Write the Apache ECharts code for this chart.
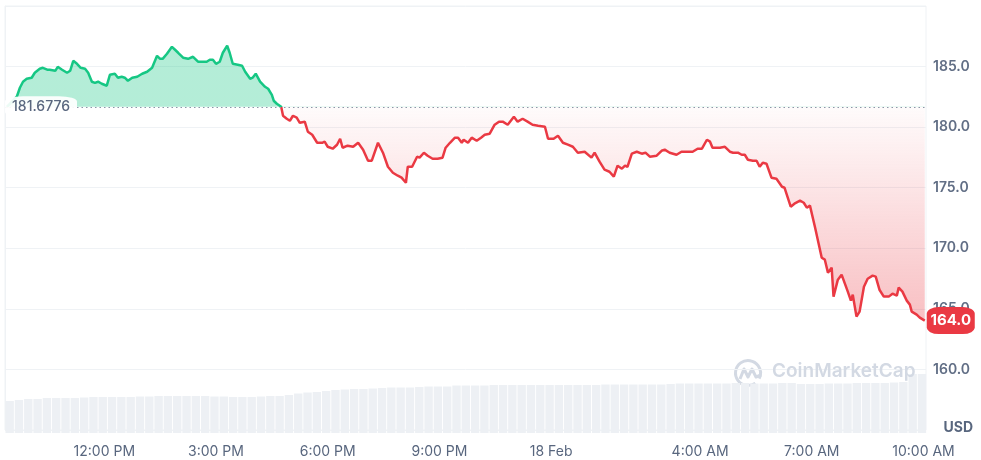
<!DOCTYPE html>
<html>
<head>
<meta charset="utf-8">
<script src="https://cdn.jsdelivr.net/npm/echarts@6/dist/echarts.min.js"></script>
<style>html,body{margin:0;padding:0;background:#fff}#c{width:981px;height:460px}</style>
</head>
<body>
<div id="c"></div>
<script>
// ---- data ----
const baseline = 181.6776;
// minutes after 17 Feb 09:20
const minutes = [3,19,24,29,35,43,48,56,61,68,72,81,85,92,100,105,110,116,122,129,134,140,145,150,156,164,169,172,177,182,188,193,198,205,213,221,229,237,245,250,254,261,269,274,279,287,295,303,311,319,325,330,335,340,346,351,358,362,367,375,382,387,395,399,404,411,419,424,430,433,438,445,448,454,459,464,470,475,483,488,495,503,511,515,520,528,535,540,544,552,561,569,577,585,591,601,609,617,625,633,639,646,649,656,664,668,675,681,689,697,705,710,717,725,730,736,739,746,752,760,767,773,781,789,796,802,810,820,826,834,842,850,859,870,875,884,891,899,907,915,923,934,945,950,958,966,974,981,987,994,999,1003,1010,1018,1026,1032,1039,1050,1058,1063,1071,1082,1090,1099,1108,1116,1123,1131,1136,1140,1152,1160,1168,1173,1181,1187,1192,1197,1205,1211,1216,1221,1227,1235,1243,1252,1256,1266,1272,1281,1287,1292,1297,1305,1316,1321,1326,1332,1335,1342,1348,1351,1358,1363,1366,1372,1377,1384,1390,1398,1403,1409,1416,1424,1430,1437,1440,1446,1453,1458,1461,1469,1474,1482];
const prices = [181.68,182.51,183.25,183.75,183.99,184.08,184.49,184.82,184.90,184.74,184.74,184.65,184.98,184.74,184.49,184.65,185.48,185.23,184.90,184.82,184.49,183.75,183.66,183.75,183.58,183.42,184.32,184.16,184.41,184.08,184.16,184.08,183.83,184.08,184.16,184.41,184.57,184.90,185.89,185.64,185.64,186.06,186.63,186.39,186.14,185.73,185.64,185.81,185.40,185.40,185.40,185.56,185.56,185.23,185.40,186.14,186.72,186.14,185.23,185.15,185.07,184.57,183.99,184.08,184.41,183.75,183.33,183.17,182.67,182.18,181.93,181.68,180.94,180.69,180.53,180.94,180.78,180.36,180.45,179.62,179.37,178.71,178.71,178.80,178.38,178.22,178.55,179.04,178.30,178.47,178.38,178.71,178.14,177.23,177.23,178.71,177.89,176.73,176.24,175.99,175.83,175.41,176.73,176.73,177.56,177.48,177.89,177.64,177.39,177.39,177.48,178.30,178.71,179.13,179.13,178.71,178.96,178.71,179.13,178.88,179.13,179.37,179.46,180.20,180.45,180.45,180.20,180.86,180.45,180.69,180.45,180.20,180.12,180.03,179.04,179.04,179.29,178.71,178.55,178.38,177.89,177.97,177.48,177.89,177.15,176.49,176.32,175.91,176.82,176.57,176.82,176.73,177.81,177.97,177.81,177.89,177.56,177.64,178.05,178.14,177.89,177.72,177.97,177.97,177.97,178.22,178.22,178.96,178.80,178.30,178.30,178.38,177.97,177.89,177.89,177.72,177.72,177.31,177.23,177.23,176.73,177.06,176.98,175.83,175.74,175.08,175.00,173.43,173.68,173.93,173.76,173.35,173.52,171.78,169.22,169.06,167.99,168.40,166.01,167.41,167.82,167.82,166.42,165.68,166.17,164.36,164.77,166.83,167.49,167.74,167.66,166.58,166.01,166.01,166.25,166.09,166.75,166.42,165.68,165.35,164.77,164.52,164.27,164.03];
// 24h volume (M USD), one bar per 15-minute interval from 09:20
const volumeStep = 15;
const volumes = [3200,3300,3400,3400,3500,3500,3500,3500,3550,3600,3600,3600,3600,3600,3650,3650,3700,3700,3700,3700,3700,3700,3650,3650,3600,3600,3600,3650,3700,3700,3800,3950,4050,4100,4200,4300,4350,4400,4400,4450,4500,4550,4550,4550,4600,4650,4650,4650,4750,4750,4750,4750,
4800,4800,4800,4800,4800,4800,4800,4800,4800,4800,4800,4800,4850,4850,4850,4850,4850,4850,4850,
4900,4950,4950,4950,4950,4950,4950,5000,5000,4950,4950,4950,5000,5000,
4900,4900,4900,4950,4950,4950,
5000,5000,5000,5000,5050,5100,5900,5900];
const tickMinutes = [160,340,520,700,880,1120,1300,1480];
const tickLabels = ['12:00 PM','3:00 PM','6:00 PM','9:00 PM','18 Feb','4:00 AM','7:00 AM','10:00 AM'];
const axisEnd = 1484;

// ---- chart ----
const chart = echarts.init(document.getElementById('c'), null, {renderer:'canvas'});
const maxP = Math.max(...prices), minP = Math.min(...prices);
const f = (maxP - baseline) / (maxP - minP);
const GREEN = '#16c784', RED = '#ea3943';
const font = 'Inter';

chart.setOption({
  animation:false,
  grid:[
    {left:5,right:55,top:6,bottom:30,show:true,borderColor:'#eff2f5',borderWidth:1},
    {left:5,right:55,top:373,bottom:27}
  ],
  xAxis:[
    {type:'value',gridIndex:0,min:0,max:axisEnd,show:false},
    {type:'value',gridIndex:1,min:0,max:axisEnd,
     axisLine:{show:false},axisTick:{show:false},splitLine:{show:false},
     axisLabel:{customValues:tickMinutes,margin:12,color:'#58667e',fontSize:14,fontFamily:font,
       formatter:function(v){const i=tickMinutes.indexOf(Math.round(v));return i>=0?tickLabels[i]:'';}}}
  ],
  yAxis:[
    {type:'value',gridIndex:0,position:'right',min:155,max:190,interval:5,
     axisLine:{show:true,lineStyle:{color:'#eff2f5'}},axisTick:{show:false},
     splitLine:{lineStyle:{color:'#eff2f5',width:1}},
     axisLabel:{showMinLabel:false,showMaxLabel:false,margin:7,color:'#616e85',fontSize:14,fontWeight:600,fontFamily:font,
       formatter:function(v){return v.toFixed(1);}}},
    {type:'value',gridIndex:1,min:0,max:6000,show:false}
  ],
  visualMap:[{type:'piecewise',show:false,seriesIndex:1,dimension:1,
    pieces:[{gt:baseline,lte:190,color:GREEN},{gte:155,lte:baseline,color:RED}],
    outOfRange:{color:RED}}],
  series:[
    {type:'bar',xAxisIndex:1,yAxisIndex:1,silent:true,barWidth:'90%',clip:true,
     data:volumes.map((v,i)=>[i*volumeStep+volumeStep/2,v]),itemStyle:{color:'#edf0f4'},z:1},
    {type:'line',xAxisIndex:0,yAxisIndex:0,symbol:'none',showSymbol:false,z:3,
     data:minutes.map((m,i)=>[m,prices[i]]),
     lineStyle:{width:2.5},
     areaStyle:{origin:baseline,opacity:1,color:new echarts.graphic.LinearGradient(0,0,0,1,[
        {offset:0,color:'rgba(22,199,132,0.32)'},
        {offset:f,color:'rgba(22,199,132,0.32)'},
        {offset:f,color:'rgba(234,57,67,0.02)'},
        {offset:1,color:'rgba(234,57,67,0.32)'}])},
     markLine:{silent:true,symbol:'none',animation:false,label:{show:false},
        lineStyle:{type:[1.5,3],color:'#8c96a8',width:1.2},
        data:[{yAxis:baseline}]},
     markPoint:{silent:true,animation:false,data:[
        {coord:[minutes[minutes.length-1],prices[prices.length-1]],value:prices[prices.length-1],
         symbol:'roundRect',symbolSize:[48,27],symbolOffset:[26,0],itemStyle:{color:RED},
         label:{show:true,position:'inside',color:'#fff',fontSize:15,fontWeight:700,fontFamily:font,
           formatter:function(p){return p.value.toFixed(1);}}},
        {coord:[0,baseline],value:baseline,
         symbol:'roundRect',symbolSize:[72,21],symbolOffset:[36,0],itemStyle:{color:'rgba(255,255,255,0.92)'},
         label:{show:true,position:'inside',color:'#58667e',fontSize:14,fontWeight:500,fontFamily:font,
           formatter:function(p){return String(p.value);}}}
     ]}}
  ],
  graphic:[
    {type:'group',left:733,top:358,z:10,silent:true,children:[
      {type:'arc',shape:{cx:14,cy:14,r:12.5,startAngle:Math.PI*0.3,endAngle:Math.PI*2.15},style:{stroke:'#d3d9e3',lineWidth:3,fill:'none'}},
      {type:'polyline',shape:{points:[[6,20],[10,10],[14,18],[18,10],[22,18],[27,16]]},style:{stroke:'#d3d9e3',lineWidth:3,fill:'none',lineJoin:'round'}}
    ]},
    {type:'text',left:772,top:362,z:10,silent:true,style:{text:'CoinMarketCap',font:'600 19px Inter',fill:'#d3d9e3'}},
    {type:'text',right:8,top:421,z:10,silent:true,style:{text:'USD',font:'700 14px Inter',fill:'#58667e'}}
  ]
});
</script>
</body>
</html>
